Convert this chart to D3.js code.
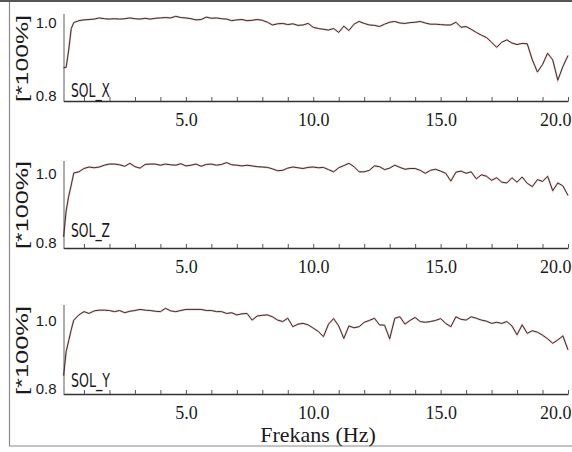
<!DOCTYPE html>
<html>
<head>
<meta charset="utf-8">
<script src="https://cdn.jsdelivr.net/npm/d3@7"></script>
<style>
body { margin: 0; background: #fff; }
.serif { font-family: 'Liberation Serif', 'DejaVu Serif', 'Times New Roman', serif; }
.sans { font-family: 'Liberation Sans', Arial, sans-serif; }
.narrow { font-family: 'Liberation Sans Narrow', 'DejaVu Sans Condensed', 'Liberation Sans', sans-serif; }
</style>
</head>
<body>
<svg id="canvas"></svg>
<script>
// frequency grid (Hz) shared by the three series
const freq = [0.2, 0.3, 0.4, 0.5, 0.6, 0.8,
  1.0, 1.2, 1.4, 1.6, 1.8, 2.0, 2.2, 2.4, 2.6, 2.8,
  3.0, 3.2, 3.4, 3.6, 3.8, 4.0, 4.2, 4.4, 4.6, 4.8,
  5.0, 5.2, 5.4, 5.6, 5.8, 6.0, 6.2, 6.4, 6.6, 6.8,
  7.0, 7.2, 7.4, 7.6, 7.8, 8.0, 8.2, 8.4, 8.6, 8.8,
  9.0, 9.2, 9.4, 9.6, 9.8, 10.0, 10.2, 10.4, 10.6, 10.8,
  11.0, 11.2, 11.4, 11.6, 11.8, 12.0, 12.2, 12.4, 12.6, 12.8,
  13.0, 13.2, 13.4, 13.6, 13.8, 14.0, 14.2, 14.4, 14.6, 14.8,
  15.0, 15.2, 15.4, 15.6, 15.8, 16.0, 16.2, 16.4, 16.6, 16.8,
  17.0, 17.2, 17.4, 17.6, 17.8, 18.0, 18.2, 18.4, 18.6, 18.8,
  19.0, 19.2, 19.4, 19.6, 19.8, 20.0]

const solX = [0.885, 0.886, 0.930, 0.985, 1.000, 1.005,
  1.007, 1.008, 1.009, 1.012, 1.010, 1.009, 1.010, 1.009, 1.010, 1.012,
  1.010, 1.009, 1.011, 1.009, 1.011, 1.012, 1.013, 1.012, 1.016, 1.013,
  1.012, 1.010, 1.007, 1.008, 1.014, 1.011, 1.012, 1.010, 1.009, 1.005,
  1.007, 1.008, 1.005, 1.006, 1.008, 1.006, 1.001, 0.994, 0.997, 0.998,
  0.995, 0.997, 0.993, 0.994, 0.998, 0.988, 0.985, 0.983, 0.981, 0.985,
  0.975, 0.991, 0.980, 0.996, 1.003, 0.998, 0.994, 0.993, 0.990, 0.996,
  1.001, 1.003, 0.999, 0.998, 1.000, 1.001, 1.003, 0.999, 0.996, 0.996,
  0.995, 0.994, 0.994, 1.001, 0.988, 0.990, 0.983, 0.975, 0.968, 0.962,
  0.950, 0.937, 0.950, 0.956, 0.948, 0.944, 0.947, 0.946, 0.905, 0.874,
  0.893, 0.922, 0.905, 0.853, 0.888, 0.916]

const solZ = [0.830, 0.900, 0.940, 0.970, 1.003, 1.006,
  1.015, 1.019, 1.017, 1.019, 1.024, 1.027, 1.027, 1.025, 1.021, 1.029,
  1.020, 1.016, 1.026, 1.027, 1.027, 1.024, 1.027, 1.025, 1.024, 1.028,
  1.022, 1.024, 1.027, 1.021, 1.026, 1.027, 1.024, 1.026, 1.031, 1.025,
  1.024, 1.022, 1.024, 1.022, 1.020, 1.019, 1.018, 1.014, 1.009, 1.010,
  1.016, 1.019, 1.017, 1.015, 1.018, 1.019, 1.017, 1.018, 1.012, 1.006,
  1.017, 1.023, 1.029, 1.020, 1.006, 1.006, 1.010, 1.022, 1.020, 1.012,
  1.016, 1.024, 1.018, 1.013, 1.015, 1.015, 1.010, 1.002, 1.010, 1.013,
  1.008, 1.002, 0.981, 1.005, 1.008, 1.002, 1.006, 0.987, 0.998, 0.994,
  0.983, 0.990, 0.978, 0.976, 0.990, 0.978, 0.992, 0.975, 0.966, 0.985,
  0.980, 0.994, 0.955, 0.976, 0.968, 0.942]

const solY = [0.850, 0.915, 0.945, 0.975, 1.001, 1.015,
  1.024, 1.019, 1.026, 1.028, 1.028, 1.027, 1.024, 1.027, 1.021, 1.025,
  1.027, 1.030, 1.028, 1.027, 1.025, 1.024, 1.033, 1.026, 1.024, 1.027,
  1.030, 1.030, 1.030, 1.030, 1.027, 1.027, 1.024, 1.024, 1.019, 1.021,
  1.015, 1.018, 1.019, 1.001, 1.012, 1.014, 1.015, 1.010, 1.001, 0.997,
  1.006, 0.983, 0.990, 0.992, 0.988, 0.979, 0.970, 0.956, 0.990, 1.005,
  0.985, 0.951, 0.985, 0.980, 0.983, 0.995, 1.000, 1.006, 0.988, 0.987,
  0.950, 1.006, 1.010, 0.990, 1.000, 1.008, 0.997, 0.995, 0.997, 1.000,
  1.005, 0.992, 0.983, 1.010, 1.003, 1.001, 1.010, 1.006, 1.001, 0.998,
  0.992, 0.995, 0.992, 0.997, 0.985, 0.961, 0.988, 0.965, 0.972, 0.968,
  0.960, 0.950, 0.938, 0.947, 0.958, 0.920]

const names = ['SOL_X', 'SOL_Z', 'SOL_Y']
const series = [solX, solZ, solY]
const yMax = [1.022, 1.038, 1.042]
const yTicks = [0.8, 1.0]
const xTicks = [1, 2, 3, 4, 5, 6, 7, 8, 9, 10, 11, 12, 13, 14, 15, 16, 17, 18, 19, 20]
const xLabels = [5, 10, 15, 20]

const width = 572
const height = 452

// layout of the three stacked panels
const panels = [
  {top: 14, bottom: 101, nameY: 97},
  {top: 160, bottom: 248, nameY: 237},
  {top: 305, bottom: 394, nameY: 387}
]

let canvas = d3.select('#canvas')
  .attr('width', width)
  .attr('height', height)

canvas.append('rect')
  .attr('width', width)
  .attr('height', height)
  .attr('fill', '#fff')

// frame of the scanned figure
canvas.append('path')
  .attr('d', 'M9.5,0 V446 H572')
  .attr('fill', 'none')
  .attr('stroke', '#8a8a8a')
  .attr('stroke-width', 1.2)
canvas.append('line')
  .attr('x1', 0).attr('x2', width)
  .attr('y1', 1).attr('y2', 1)
  .attr('stroke', '#555')
  .attr('stroke-width', 2)

const xScale = d3.scaleLinear()
  .domain([0.2, 20])
  .range([63.6, 568])

let drawPanel = (p, i) => {
  let yScale = d3.scaleLinear()
    .domain([0.8, yMax[i]])
    .range([p.bottom, p.top])

  let g = canvas.append('g')

  // x axis
  let xAxis = d3.axisBottom(xScale)
    .tickValues(xTicks)
    .tickSizeInner(-4)
    .tickSizeOuter(0)
    .tickPadding(12)
    .tickFormat(d => xLabels.includes(d) ? d3.format('.1f')(d) : '')

  let xg = g.append('g')
    .attr('transform', 'translate(0,' + p.bottom + ')')
    .call(xAxis)
    .attr('font-family', null)
    .attr('font-size', null)
  xg.select('.domain').attr('stroke', '#333').attr('stroke-width', 1.3)
  xg.selectAll('.tick line').attr('stroke', '#555')
  xg.selectAll('.tick text')
    .attr('class', 'serif')
    .style('font-size', '18px')
    .attr('fill', '#1a1a1a')
  xg.selectAll('.tick text')
    .filter(d => d === 20)
    .attr('text-anchor', 'end')
    .attr('x', 3)

  // y axis (dotted)
  let yAxis = d3.axisLeft(yScale)
    .tickValues(yTicks)
    .tickSize(0)
    .tickPadding(7)
    .tickFormat(d3.format('.1f'))

  let yg = g.append('g')
    .attr('transform', 'translate(63.5,0)')
    .call(yAxis)
    .attr('font-family', null)
    .attr('font-size', null)
  yg.select('.domain')
    .attr('stroke', '#333')
    .attr('stroke-width', 1.6)
    .attr('stroke-dasharray', '1,1')
  yg.selectAll('.tick text')
    .attr('class', 'sans')
    .style('font-size', '15px')
    .attr('fill', '#1a1a1a')
  yg.selectAll('.tick text')
    .filter(d => d === 0.8)
    .attr('dy', '-0.05em')

  // y title
  g.append('text')
    .attr('class', 'sans')
    .attr('transform', 'translate(27.5,' + ((p.top + p.bottom) / 2 + 1) + ') rotate(-90)')
    .attr('text-anchor', 'middle')
    .style('font-size', '17px')
    .attr('fill', '#1a1a1a')
    .attr('textLength', p.bottom - p.top)
    .attr('lengthAdjust', 'spacingAndGlyphs')
    .text('[*100%]')

  // series name
  g.append('text')
    .attr('class', 'narrow')
    .attr('x', 71)
    .attr('y', p.nameY)
    .style('font-size', '20px')
    .attr('fill', '#1a1a1a')
    .attr('textLength', 39)
    .attr('lengthAdjust', 'spacingAndGlyphs')
    .text(names[i])

  let values = series[i]
  let points = freq.map((f, k) => [f, values[k]]).filter(d => d[1] !== undefined)

  let line = d3.line()
    .x(d => xScale(d[0]))
    .y(d => yScale(d[1]))

  g.append('path')
    .datum(points)
    .attr('d', line)
    .attr('fill', 'none')
    .attr('stroke', '#d05050')
    .attr('stroke-opacity', 0.35)
    .attr('stroke-width', 2)

  g.append('path')
    .datum(points)
    .attr('d', line)
    .attr('fill', 'none')
    .attr('stroke', '#333')
    .attr('stroke-width', 1)
}

panels.forEach(drawPanel)

canvas.append('text')
  .attr('class', 'serif')
  .attr('x', 318)
  .attr('y', 442)
  .attr('text-anchor', 'middle')
  .style('font-size', '22px')
  .attr('fill', '#1a1a1a')
  .text('Frekans (Hz)')
</script>
</body>
</html>
